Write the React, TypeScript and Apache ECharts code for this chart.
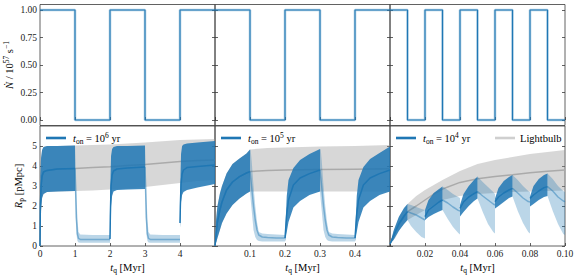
import React, { useEffect, useRef } from 'react';
import * as echarts from 'echarts';

// ---------- Top row: emission rate (step functions) ----------
const TOP_T_A = [0, 1, 2, 3, 4, 5];
const TOP_N_A = [1, 0, 1, 0, 1, 1];
const TOP_T_B = [0, 0.1, 0.2, 0.3, 0.4, 0.5];
const TOP_N_B = [1, 0, 1, 0, 1, 1];
const TOP_T_C = [0, 0.01, 0.02, 0.03, 0.04, 0.05, 0.06, 0.07, 0.08, 0.09, 0.1];
const TOP_N_C = [1, 0, 1, 0, 1, 0, 1, 0, 1, 0, 0];

// ---------- Bottom row: rows are [t_q, lower, median, upper] ----------
// Panel A: t_on = 1e6 yr
const A_lightbulb = [
  [0, 0, 0, 0], [0.01, 0.8, 2.0, 3.5], [0.03, 1.8, 3.0, 4.4], [0.06, 2.4, 3.5, 4.8],
  [0.1, 2.6, 3.7, 4.95], [0.2, 2.7, 3.78, 5.0], [0.5, 2.72, 3.85, 5.0], [1.0, 2.75, 3.88, 5.02],
  [1.5, 2.78, 3.92, 5.05], [2.0, 2.82, 3.96, 5.08], [2.5, 2.88, 4.02, 5.12], [3.0, 2.95, 4.08, 5.18],
  [3.5, 3.05, 4.15, 5.24], [4.0, 3.15, 4.22, 5.3], [4.5, 3.25, 4.27, 5.33], [5.0, 3.3, 4.3, 5.35],
];
const A_on1 = [
  [0, 0, 0, 0], [0.01, 0.8, 2.0, 3.5], [0.03, 1.8, 3.0, 4.4], [0.06, 2.4, 3.5, 4.8],
  [0.1, 2.6, 3.7, 4.95], [0.2, 2.7, 3.78, 5.0], [0.5, 2.72, 3.85, 5.0], [1.0, 2.75, 3.88, 5.02],
];
const A_off1 = [
  [1.0, 2.75, 3.88, 5.02], [1.02, 1.4, 2.6, 4.2], [1.04, 0.6, 1.4, 2.8], [1.07, 0.25, 0.6, 1.3],
  [1.1, 0.17, 0.38, 0.7], [1.15, 0.16, 0.33, 0.58], [1.5, 0.16, 0.32, 0.55], [2.0, 0.16, 0.32, 0.55],
];
const A_on2 = [
  [2.0, 0.2, 0.35, 0.55], [2.01, 0.8, 1.5, 3.0], [2.03, 2.0, 3.0, 4.5], [2.06, 2.5, 3.55, 4.85],
  [2.1, 2.72, 3.75, 4.95], [2.2, 2.8, 3.85, 5.0], [2.5, 2.82, 3.9, 5.0], [3.0, 2.85, 3.95, 5.02],
];
const A_off2 = [
  [3.0, 2.85, 3.95, 5.02], [3.02, 1.4, 2.6, 4.2], [3.04, 0.6, 1.4, 2.8], [3.07, 0.25, 0.6, 1.3],
  [3.1, 0.17, 0.38, 0.7], [3.15, 0.16, 0.33, 0.58], [3.5, 0.16, 0.32, 0.55], [4.0, 0.16, 0.32, 0.55],
];
const A_on3 = [
  [4.0, 0.9, 1.15, 1.3], [4.01, 1.2, 2.0, 3.2], [4.03, 2.2, 3.1, 4.6], [4.06, 2.55, 3.6, 5.0],
  [4.1, 2.7, 3.8, 5.08], [4.2, 2.8, 3.92, 5.12], [4.5, 2.92, 3.98, 5.18], [5.0, 3.1, 4.05, 5.25],
];

// Panel B: t_on = 1e5 yr
const B_lightbulb = [
  [0, 0, 0, 0], [0.003, 0.15, 0.6, 1.3], [0.007, 0.4, 1.2, 2.0], [0.014, 0.8, 1.8, 2.63],
  [0.02, 1.15, 2.2, 3.0], [0.033, 1.63, 2.8, 3.63], [0.05, 2.05, 3.2, 4.1], [0.07, 2.38, 3.47, 4.38],
  [0.09, 2.63, 3.65, 4.63], [0.1, 2.72, 3.72, 4.83], [0.15, 2.72, 3.78, 4.9], [0.2, 2.72, 3.8, 4.93],
  [0.3, 2.72, 3.82, 4.97], [0.4, 2.72, 3.84, 5.0], [0.5, 2.72, 3.86, 5.05],
];
const B_on1 = [
  [0, 0, 0, 0], [0.003, 0.15, 0.6, 1.3], [0.007, 0.4, 1.2, 2.0], [0.014, 0.8, 1.8, 2.63],
  [0.02, 1.15, 2.2, 3.0], [0.033, 1.63, 2.8, 3.63], [0.05, 2.05, 3.2, 4.1], [0.07, 2.38, 3.47, 4.38],
  [0.09, 2.63, 3.65, 4.63], [0.1, 2.72, 3.72, 4.83],
];
const B_off1 = [
  [0.1, 2.72, 3.72, 4.83], [0.102, 2.3, 3.4, 4.8], [0.105, 1.75, 2.9, 4.2], [0.11, 0.8, 2.0, 3.0],
  [0.115, 0.45, 1.3, 2.0], [0.12, 0.3, 0.8, 1.2], [0.125, 0.25, 0.55, 0.7], [0.135, 0.23, 0.45, 0.62],
  [0.15, 0.22, 0.42, 0.6], [0.175, 0.22, 0.4, 0.57], [0.2, 0.22, 0.4, 0.55],
];
const B_on2 = [
  [0.2, 0.22, 0.4, 0.55], [0.205, 0.7, 1.6, 2.5], [0.21, 1.2, 2.3, 3.3], [0.224, 1.93, 3.05, 3.9],
  [0.243, 2.25, 3.4, 4.3], [0.27, 2.55, 3.62, 4.6], [0.3, 2.72, 3.8, 4.85],
];
const B_off2 = [
  [0.3, 2.72, 3.8, 4.85], [0.302, 2.3, 3.45, 4.82], [0.305, 1.75, 2.95, 4.25], [0.31, 0.8, 2.0, 3.0],
  [0.315, 0.45, 1.3, 2.0], [0.32, 0.3, 0.8, 1.2], [0.325, 0.25, 0.55, 0.7], [0.335, 0.23, 0.45, 0.62],
  [0.35, 0.22, 0.42, 0.6], [0.375, 0.22, 0.4, 0.57], [0.4, 0.22, 0.4, 0.55],
];
const B_on3 = [
  [0.4, 0.22, 0.4, 0.55], [0.405, 0.7, 1.6, 2.5], [0.41, 1.2, 2.3, 3.3], [0.424, 1.93, 3.05, 3.95],
  [0.443, 2.25, 3.4, 4.35], [0.47, 2.55, 3.62, 4.65], [0.5, 2.72, 3.8, 4.97],
];

// Panel C: t_on = 1e4 yr
const C_lightbulb = [
  [0, 0.1, 0.1, 0.1], [0.003, 0.4, 0.7, 1.0], [0.006, 0.9, 1.2, 1.6], [0.01, 1.3, 1.72, 2.1],
  [0.015, 1.55, 2.0, 2.5], [0.02, 1.8, 2.3, 2.8], [0.025, 2.05, 2.6, 3.05], [0.03, 2.3, 2.85, 3.3],
  [0.04, 2.5, 3.18, 3.75], [0.05, 2.6, 3.36, 4.1], [0.06, 2.65, 3.48, 4.3], [0.07, 2.7, 3.56, 4.45],
  [0.08, 2.72, 3.66, 4.6], [0.09, 2.75, 3.74, 4.7], [0.1, 2.77, 3.8, 4.8],
];
const C_on1 = [[0, 0.1, 0.1, 0.1], [0.002, 0.3, 0.5, 0.75], [0.005, 0.75, 1.1, 1.45], [0.008, 1.1, 1.5, 1.9], [0.01, 1.3, 1.72, 2.1]];
const C_off1 = [[0.01, 1.3, 1.72, 2.1], [0.012, 1.0, 1.65, 2.05], [0.015, 0.7, 1.55, 1.95], [0.018, 0.45, 1.4, 1.85], [0.02, 0.38, 1.3, 1.8]];
const C_on2 = [[0.02, 1.3, 1.47, 1.8], [0.022, 1.45, 1.8, 2.3], [0.025, 1.6, 2.0, 2.65], [0.028, 1.72, 2.2, 2.85], [0.03, 1.8, 2.3, 2.97]];
const C_off2 = [[0.03, 1.8, 2.3, 2.97], [0.033, 1.35, 2.15, 2.8], [0.036, 0.95, 1.95, 2.6], [0.039, 0.65, 1.78, 2.45], [0.04, 0.58, 1.75, 2.4]];
const C_on3 = [[0.04, 1.47, 1.88, 2.05], [0.042, 1.7, 2.2, 2.6], [0.045, 2.0, 2.45, 3.0], [0.048, 2.25, 2.62, 3.3], [0.05, 2.38, 2.72, 3.47]];
const C_off3 = [[0.05, 2.38, 2.72, 3.47], [0.053, 1.7, 2.5, 3.2], [0.056, 1.1, 2.3, 2.95], [0.059, 0.7, 2.1, 2.7], [0.06, 0.63, 2.05, 2.6]];
const C_on4 = [[0.06, 1.88, 2.22, 2.38], [0.062, 2.0, 2.45, 2.9], [0.065, 2.2, 2.65, 3.25], [0.068, 2.4, 2.8, 3.45], [0.07, 2.47, 2.88, 3.55]];
const C_off4 = [[0.07, 2.47, 2.88, 3.55], [0.073, 1.75, 2.65, 3.3], [0.076, 1.15, 2.4, 3.0], [0.079, 0.7, 2.22, 2.75], [0.08, 0.63, 2.2, 2.7]];
const C_on5 = [[0.08, 1.97, 2.38, 2.47], [0.082, 2.1, 2.55, 3.0], [0.085, 2.3, 2.75, 3.35], [0.088, 2.45, 2.92, 3.55], [0.09, 2.5, 2.97, 3.63]];
const C_off5 = [[0.09, 2.5, 2.97, 3.63], [0.093, 1.75, 2.75, 3.35], [0.096, 1.1, 2.45, 3.0], [0.099, 0.6, 2.25, 2.75], [0.1, 0.55, 2.22, 2.7]];

// ---------- Ticks and labels ----------
const X_TICKS_A = [0, 1, 2, 3, 4, 5];
const X_LABELS_A = [0, 1, 2, 3, 4];
const X_TICKS_B = [0, 0.1, 0.2, 0.3, 0.4, 0.5];
const X_LABELS_B = [0.1, 0.2, 0.3, 0.4];
const X_TICKS_C = [0, 0.02, 0.04, 0.06, 0.08, 0.1];
const X_LABELS_C = [0.02, 0.04, 0.06, 0.08, 0.1];
const Y_TICKS_TOP = [0, 0.25, 0.5, 0.75, 1];
const Y_TICKS_BOTTOM = [0, 1, 2, 3, 4, 5];
const LEGEND_EXPONENTS = ['6', '5', '4'];

const FONT = '"Liberation Serif", "DejaVu Serif", serif';
const BLUE = '#1f77b4';
const TEXT = '#222';
const FRAME = '#3a3a3a';

const rich = {
  i: { fontFamily: FONT, fontStyle: 'italic', fontSize: 10.5, lineHeight: 14, color: TEXT },
  r: { fontFamily: FONT, fontSize: 10.5, lineHeight: 14, color: TEXT },
  sub: { fontFamily: FONT, fontSize: 7.5, lineHeight: 8, verticalAlign: 'bottom', color: TEXT },
  sup: { fontFamily: FONT, fontSize: 7.5, lineHeight: 7, verticalAlign: 'top', color: TEXT },
};

function bandSeries(gi: number, segments: number[][][], fill: string, z: number) {
  const rows = segments.reduce((acc: number[][], s) => acc.concat(s), []);
  return {
    type: 'custom',
    xAxisIndex: gi,
    yAxisIndex: 2 * gi,
    silent: true,
    clip: true,
    z,
    data: rows.map((r) => [r[0], r[1], r[3]]),
    renderItem: (params: any, api: any) => {
      if (params.dataIndex !== 0) return null;
      const children = segments.map((seg) => {
        const upper = seg.map((r) => api.coord([r[0], r[3]]));
        const lower = seg.slice().reverse().map((r) => api.coord([r[0], r[1]]));
        return { type: 'polygon', shape: { points: upper.concat(lower) }, style: { fill, stroke: null } };
      });
      return { type: 'group', children };
    },
  };
}

function medianSeries(gi: number, segments: number[][][], color: string, z: number, width = 1.5) {
  const data: any[] = [];
  segments.forEach((seg, k) => {
    if (k > 0) data.push([seg[0][0], '-']);
    seg.forEach((r) => data.push([r[0], r[2]]));
  });
  return {
    type: 'line',
    xAxisIndex: gi,
    yAxisIndex: 2 * gi,
    data,
    symbol: 'none',
    showSymbol: false,
    silent: true,
    connectNulls: false,
    z,
    lineStyle: { color, width },
  };
}

function buildOption() {
  const panels = [
    { xMax: 5, topT: TOP_T_A, topN: TOP_N_A, on: [A_on1, A_on2, A_on3], off: [A_off1, A_off2], bulb: A_lightbulb, ticks: X_TICKS_A, labels: X_LABELS_A, dec: 0 },
    { xMax: 0.5, topT: TOP_T_B, topN: TOP_N_B, on: [B_on1, B_on2, B_on3], off: [B_off1, B_off2], bulb: B_lightbulb, ticks: X_TICKS_B, labels: X_LABELS_B, dec: 1 },
    { xMax: 0.1, topT: TOP_T_C, topN: TOP_N_C, on: [C_on1, C_on2, C_on3, C_on4, C_on5], off: [C_off1, C_off2, C_off3, C_off4, C_off5], bulb: C_lightbulb, ticks: X_TICKS_C, labels: X_LABELS_C, dec: 2 },
  ];
  const lefts = [40, 215, 390];
  const W = 175;
  const grid: any[] = [];
  const xAxis: any[] = [];
  const yAxis: any[] = [];
  const series: any[] = [];
  const tickStyle = { color: FRAME, width: 0.8 };
  const labelStyle = { fontFamily: FONT, fontSize: 9.5, color: TEXT };

  for (let row = 0; row < 2; row++) {
    for (let p = 0; p < 3; p++) {
      const gi = row * 3 + p;
      const P = panels[p];
      grid.push({
        left: lefts[p], width: W,
        top: row === 0 ? 4.5 : 126, height: row === 0 ? 121 : 120,
        show: true, borderColor: FRAME, borderWidth: 0.8, backgroundColor: 'transparent',
      });
      xAxis.push({
        type: 'value', gridIndex: gi, min: 0, max: P.xMax,
        axisLine: { show: false },
        splitLine: { show: false },
        axisTick: { show: true, inside: true, length: 3, customValues: P.ticks, lineStyle: tickStyle },
        axisLabel: {
          show: row === 1, customValues: P.labels, margin: 3, ...labelStyle,
          formatter: (v: number) => v.toFixed(P.dec),
        },
      });
      const yTicks = row === 0 ? Y_TICKS_TOP : Y_TICKS_BOTTOM;
      const yMin = row === 0 ? -0.05 : 0;
      const yMax = row === 0 ? 1.05 : 6;
      yAxis.push({
        type: 'value', gridIndex: gi, min: yMin, max: yMax, position: 'left',
        axisLine: { show: false }, splitLine: { show: false },
        axisTick: { show: true, inside: true, length: 3, customValues: yTicks, lineStyle: tickStyle },
        axisLabel: {
          show: p === 0, customValues: yTicks, margin: 3, ...labelStyle,
          formatter: (v: number) => (row === 0 ? v.toFixed(2) : String(v)),
        },
      });
      yAxis.push({
        type: 'value', gridIndex: gi, min: yMin, max: yMax, position: 'right',
        axisLine: { show: false }, splitLine: { show: false },
        axisTick: { show: true, inside: true, length: 3, customValues: yTicks, lineStyle: tickStyle },
        axisLabel: { show: false },
      });

      if (row === 0) {
        series.push({
          type: 'line', xAxisIndex: gi, yAxisIndex: 2 * gi, step: 'end',
          data: P.topT.map((t, k) => [t, P.topN[k]]),
          symbol: 'none', silent: true, z: 3,
          lineStyle: { color: 'rgba(31,119,180,0.35)', width: 2.6 },
        });
        series.push({
          type: 'line', xAxisIndex: gi, yAxisIndex: 2 * gi, step: 'end',
          data: P.topT.map((t, k) => [t, P.topN[k]]),
          symbol: 'none', silent: true, z: 4,
          lineStyle: { color: BLUE, width: 1.1 },
        });
      } else {
        series.push(bandSeries(gi, [P.bulb], 'rgba(150,150,150,0.38)', 1));
        series.push(medianSeries(gi, [P.bulb], '#aaaaaa', 2));
        series.push(bandSeries(gi, P.off, 'rgba(31,119,180,0.3)', 3));
        series.push(medianSeries(gi, P.off, 'rgba(31,119,180,0.45)', 4));
        series.push(bandSeries(gi, P.on, 'rgba(31,119,180,0.86)', 5));
        series.push(medianSeries(gi, P.on, BLUE, 6));
      }
    }
  }

  const graphic: any[] = [];
  // axis names
  graphic.push({
    type: 'text', x: 9, y: 65, rotation: Math.PI / 2,
    style: { text: '{i|Ṅ}{r| / 10}{sup|57}{r| s}{sup|−1}', rich, align: 'center', verticalAlign: 'middle' },
  });
  graphic.push({
    type: 'text', x: 18, y: 186, rotation: Math.PI / 2,
    style: { text: '{i|R}{sub|p}{r| [pMpc]}', rich, align: 'center', verticalAlign: 'middle' },
  });
  lefts.forEach((l, p) => {
    graphic.push({
      type: 'text', x: l + W / 2, y: 267,
      style: { text: '{i|t}{sub|q}{r| [Myr]}', rich, align: 'center', verticalAlign: 'middle' },
    });
    // legend
    graphic.push({
      type: 'line', shape: { x1: l + 6, y1: 138, x2: l + 26, y2: 138 },
      style: { stroke: BLUE, lineWidth: 2.6 },
    });
    graphic.push({
      type: 'text', x: l + 33, y: 138,
      style: { text: `{i|t}{sub|on}{r| = 10}{sup|${LEGEND_EXPONENTS[p]}}{r| yr}`, rich, align: 'left', verticalAlign: 'middle' },
    });
  });
  graphic.push({
    type: 'line', shape: { x1: 495, y1: 138, x2: 515, y2: 138 },
    style: { stroke: '#cfcfcf', lineWidth: 2.6 },
  });
  graphic.push({
    type: 'text', x: 520, y: 138,
    style: { text: '{r|Lightbulb}', rich, align: 'left', verticalAlign: 'middle' },
  });

  return { animation: false, backgroundColor: '#fff', grid, xAxis, yAxis, series, graphic };
}

export default function App() {
  const ref = useRef<HTMLDivElement>(null);
  useEffect(() => {
    const chart = echarts.init(ref.current as HTMLDivElement, null, { renderer: 'svg' });
    chart.setOption(buildOption() as any);
    return () => chart.dispose();
  }, []);
  return <div ref={ref} style={{ position: 'absolute', left: 0, top: 0, width: 578, height: 278 }} />;
}
